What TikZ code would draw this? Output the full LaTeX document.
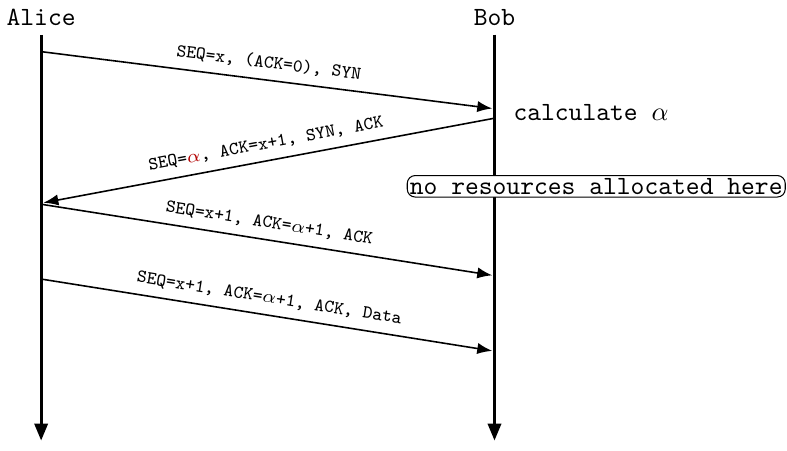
\documentclass[tikz,border=0pt]{standalone}
\usepackage{amsmath}
\usetikzlibrary{arrows.meta}

\begin{document}
\begin{tikzpicture}[>=Latex, font=\ttfamily,
    lifeline/.style={very thick,-{Triangle[length=6.5pt,width=5pt]}},
    msg/.style={semithick,->},
    msglabel/.style={sloped,above,font=\ttfamily\scriptsize}]
  \useasboundingbox (-0.55,0.5) rectangle (9.97,-5.52);
  % the two parties and their time lines
  \node (alice) at (0,0.27) {Alice};
  \node (bob) at (6.06,0.27) {Bob};
  \coordinate (aend) at (0,-5.39);
  \coordinate (bend) at (6.06,-5.39);
  \draw[lifeline] (alice) -- (aend);
  \draw[lifeline] (bob) -- (bend);
  % handshake points on the time lines
  \coordinate (a1) at (0,-0.19);
  \coordinate (b1) at (6.03,-0.95);
  \coordinate (b2) at (6.06,-1.08);
  \coordinate (a2) at (0.03,-2.21);
  \coordinate (a3) at (0,-2.23);
  \coordinate (b3) at (6.03,-3.18);
  \coordinate (a4) at (0,-3.23);
  \coordinate (b4) at (6.03,-4.19);
  \draw[msg] (a1) -- node[msglabel] {SEQ=x, (ACK=0), SYN} (b1);
  \draw[msg] (b2) -- node[msglabel] {SEQ=\textcolor{red!70!black}{$\alpha$}, ACK=x+1, SYN, ACK} (a2);
  \draw[msg] (a3) -- node[msglabel] {SEQ=x+1, ACK=$\alpha$+1, ACK} (b3);
  \draw[msg] (a4) -- node[msglabel] {SEQ=x+1, ACK=$\alpha$+1, ACK, Data} (b4);
  % notes on Bob's side
  \node[right] (calc) at (6.19,-1.0) {calculate $\alpha$};
  \node[draw,rounded corners=3pt,fill=white,inner sep=1pt] (nores) at (7.42,-1.99) {no resources allocated here};
\end{tikzpicture}
\end{document}
